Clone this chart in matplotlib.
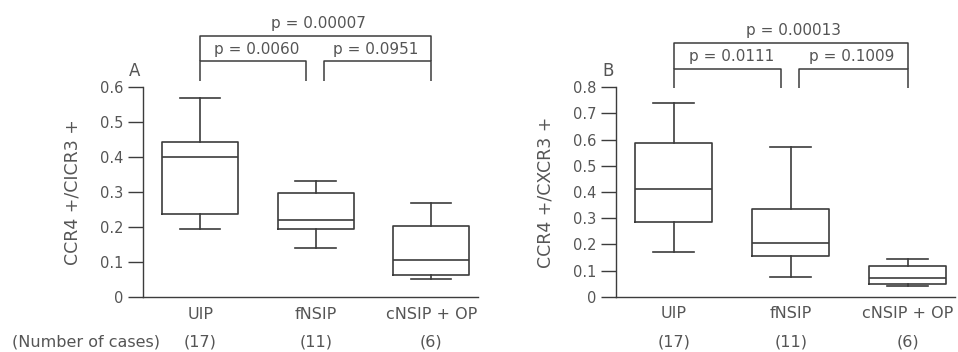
import matplotlib
matplotlib.use("Agg")
import matplotlib.pyplot as plt

plt.rcParams["font.family"] = ["DejaVu Sans"]

groups = ["UIP", "fNSIP", "cNSIP + OP"]
n_cases = ["(17)", "(11)", "(6)"]

# (whislo, q1, med, q3, whishi)
ratio_a = [[0.196, 0.238, 0.400, 0.443, 0.569],
           [0.141, 0.194, 0.221, 0.297, 0.331],
           [0.053, 0.064, 0.107, 0.205, 0.269]]
ratio_b = [[0.172, 0.284, 0.413, 0.586, 0.739],
           [0.074, 0.157, 0.204, 0.336, 0.573],
           [0.041, 0.048, 0.073, 0.117, 0.145]]

p_a = ["p = 0.0060", "p = 0.0951", "p = 0.00007"]
p_b = ["p = 0.0111", "p = 0.1009", "p = 0.00013"]

LINE = "#3c3c3c"
TEXT = "#555555"
W, H = 958, 352


def panel(rect, vals, ymax, ylabel, letter, pvals, lv, labx):
    ax = fig.add_axes(rect)
    stats = [dict(whislo=v[0], q1=v[1], med=v[2], q3=v[3], whishi=v[4], fliers=[]) for v in vals]
    lp = dict(color=LINE, linewidth=1.2)
    ax.bxp(stats, positions=[1, 2, 3], widths=0.66, capwidths=0.35,
           boxprops=lp, medianprops=lp, whiskerprops=lp, capprops=lp, showfliers=False)
    ax.set_xlim(0.505, 3.405)
    ax.set_ylim(0, ymax)
    ax.set_yticks([round(0.1 * i, 1) for i in range(int(round(ymax * 10)) + 1)])
    ax.set_yticklabels(["0"] + [f"{0.1 * i:.1f}" for i in range(1, int(round(ymax * 10)) + 1)])
    ax.set_xticks([1, 2, 3])
    ax.set_xticklabels(groups)
    ax.tick_params(axis="x", length=0, pad=7, labelsize=11.5, labelcolor=TEXT)
    ax.tick_params(axis="y", direction="out", length=11, width=1.0, color=LINE,
                   labelsize=10.5, labelcolor=TEXT, pad=3)
    for s in ["top", "right"]:
        ax.spines[s].set_visible(False)
    for s in ["left", "bottom"]:
        ax.spines[s].set_color(LINE)
        ax.spines[s].set_linewidth(1.0)
    ax.set_ylabel(ylabel, fontsize=12.5, color=TEXT)
    ax.yaxis.set_label_coords(labx, 0.5)
    ax.text(-0.024, 1.078, letter, transform=ax.transAxes, fontsize=12, color=TEXT,
            ha="center", va="center")
    tr = ax.get_xaxis_transform()
    for i, n in enumerate(n_cases):
        ax.text(i + 1, -0.214, n, transform=tr, ha="center", va="center",
                fontsize=11.5, color=TEXT)

    top, mid, leg = lv
    kw = dict(color=LINE, linewidth=1.1, clip_on=False, solid_capstyle="butt")
    ax.plot([1, 1, 1.92, 1.92], [leg, mid, mid, leg], **kw)
    ax.plot([2.07, 2.07, 3.0, 3.0], [leg, mid, mid, leg], **kw)
    ax.plot([1, 1, 3.0, 3.0], [mid, top, top, mid], **kw)
    dy = (top - mid) * 0.5
    ax.text(1.49, mid + dy * 0.95, pvals[0], ha="center", va="center", fontsize=11, color=TEXT)
    ax.text(2.52, mid + dy * 0.95, pvals[1], ha="center", va="center", fontsize=11, color=TEXT)
    ax.text(2.02, top + dy * 0.95, pvals[2], ha="center", va="center", fontsize=11, color=TEXT)
    return ax


fig = plt.figure(figsize=(W / 100, H / 100), dpi=100)
panel([143 / W, 54.7 / H, 335 / W, 210 / H], ratio_a, 0.6, "CCR4 +/CICR3 +", "A",
      p_a, (0.747, 0.675, 0.618), -0.185)
panel([616 / W, 55.3 / H, 339 / W, 209.4 / H], ratio_b, 0.8, "CCR4 +/CXCR3 +", "B",
      p_b, (0.969, 0.870, 0.797), -0.18)
fig.text(12 / W, 1 - 342 / H, "(Number of cases)", ha="left", va="center",
         fontsize=11.5, color=TEXT)

fig.savefig("out.png", dpi=100)
